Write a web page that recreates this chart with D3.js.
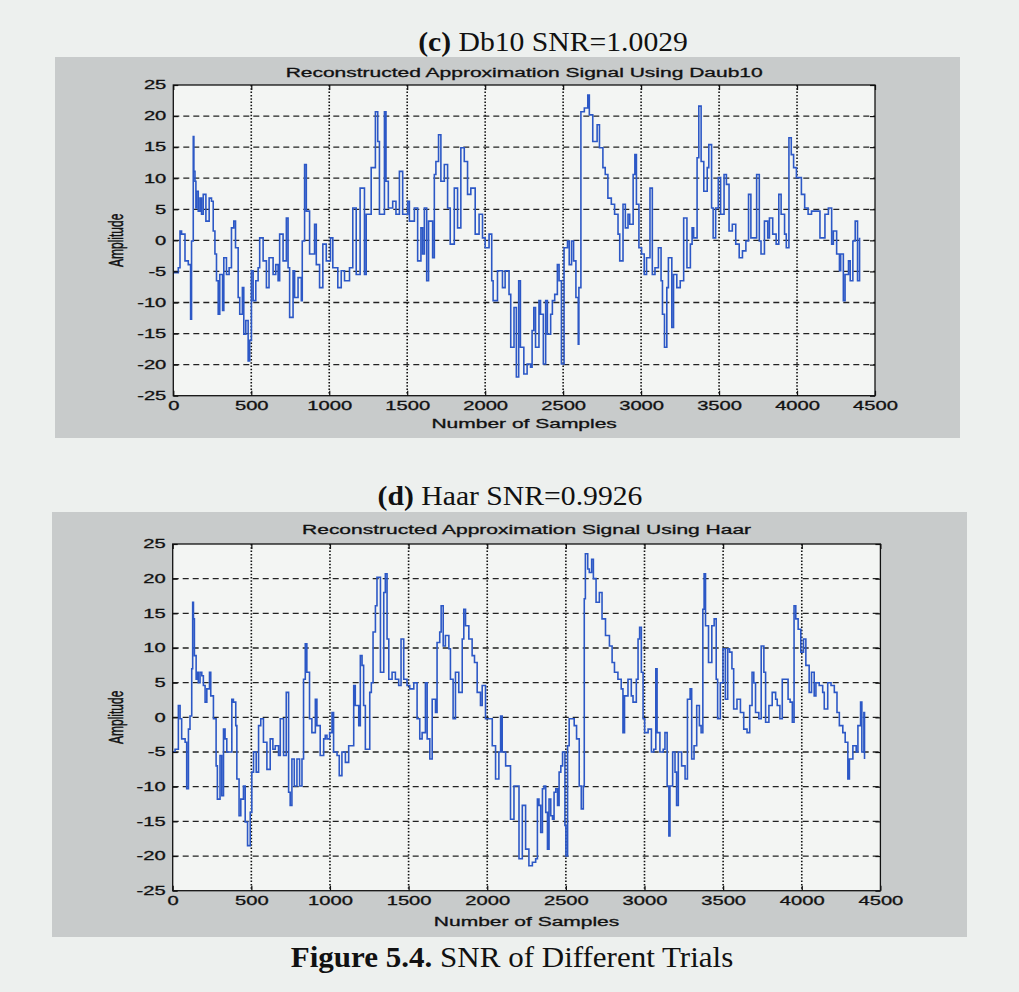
<!DOCTYPE html>
<html>
<head>
<meta charset="utf-8">
<script src="https://cdn.jsdelivr.net/npm/d3@7"></script>
<style>
  html, body { margin: 0; padding: 0; background: #edf0ee; }
  svg { display: block; }
</style>
</head>
<body>
<svg id="fig" width="1019" height="992"></svg>
<script>
// Axis ticks shared by both panels
const xTicks = [0, 500, 1000, 1500, 2000, 2500, 3000, 3500, 4000, 4500];
const yTicks = [-25, -20, -15, -10, -5, 0, 5, 10, 15, 20, 25];

// Reconstructed approximation (Daubechies-10): [sample, amplitude]
const db10Signal = [
  [0,-5.2],[32,-4.4],[43,1.5],[53,1.0],[75,-3.3],[96,-3.9],[111,-12.7],[117,-0.1],[128,16.7],[132,11.1],
  [139,9.5],[145,5.2],[149,7.9],[160,4.7],[171,6.8],[181,4.2],[192,7.4],[209,3.1],[230,6.8],[245,6.3],
  [256,1.5],[267,-2.2],[277,-6.5],[288,-11.9],[298,-5.5],[316,-11.3],[324,-2.8],[341,-5.5],[358,-4.4],[373,2.0],
  [388,3.1],[399,-1.2],[416,-9.2],[426,-11.9],[443,-7.6],[452,-15.1],[465,-12.9],[480,-19.4],[490,-16.1],[501,-4.9],
  [512,-9.7],[529,-6.5],[544,-4.4],[554,0.4],[576,-3.3],[597,-7.6],[614,-2.8],[640,-5.5],[657,-3.9],[672,-6.5],
  [682,1.0],[704,-3.3],[725,3.6],[736,-4.4],[746,-12.4],[768,-4.9],[778,-9.2],[800,-6.0],[821,-9.7],[827,-0.1],
  [842,12.2],[853,4.7],[874,-2.2],[906,2.6],[917,-3.9],[938,-7.6],[959,-0.6],[981,-3.3],[1008,0.4],[1023,-4.4],
  [1055,-7.6],[1077,-4.9],[1098,-6.5],[1130,-4.4],[1151,5.2],[1173,-5.5],[1198,8.4],[1226,-5.5],[1237,4.2],[1269,11.7],
  [1296,20.7],[1311,15.9],[1322,4.2],[1354,20.7],[1364,9.5],[1379,5.2],[1407,6.3],[1428,4.2],[1450,11.1],[1471,4.2],
  [1503,6.3],[1514,3.1],[1546,5.2],[1567,-3.3],[1588,2.0],[1599,-2.2],[1610,5.2],[1625,-6.5],[1637,3.1],[1663,-2.8],
  [1674,10.6],[1684,12.7],[1701,17.0],[1716,9.5],[1738,12.2],[1759,5.2],[1776,-0.6],[1802,8.4],[1823,2.0],[1844,14.9],
  [1866,12.7],[1887,7.4],[1908,8.4],[1936,1.0],[1961,4.2],[1983,0.4],[2000,-1.2],[2025,1.0],[2042,-6.5],[2051,-9.7],
  [2079,-4.9],[2111,-7.6],[2128,-4.9],[2153,-8.7],[2164,-17.2],[2185,-10.8],[2200,-22.0],[2215,-6.5],[2226,-17.2],[2248,-21.5],
  [2269,-19.9],[2291,-20.4],[2301,-14.5],[2312,-10.8],[2323,-17.2],[2345,-9.7],[2355,-11.9],[2373,-19.9],[2388,-9.7],[2399,-15.1],
  [2420,-11.9],[2431,-9.7],[2446,-8.7],[2463,-3.9],[2474,-6.5],[2489,-19.9],[2506,-1.2],[2528,-0.1],[2539,-3.9],[2554,-0.1],
  [2567,-3.3],[2582,-9.2],[2597,-16.7],[2601,-7.6],[2614,20.7],[2636,21.3],[2658,23.4],[2668,20.2],[2690,15.9],[2718,18.6],
  [2733,14.9],[2755,11.7],[2770,10.6],[2787,6.8],[2809,5.8],[2830,4.2],[2852,1.0],[2863,-3.3],[2884,5.8],[2899,2.0],
  [2916,4.2],[2927,2.6],[2949,10.6],[2960,13.8],[2970,5.8],[2986,-1.2],[3003,-2.2],[3020,-5.5],[3035,-2.8],[3057,8.4],
  [3072,-5.5],[3089,-4.4],[3111,-1.2],[3128,-6.5],[3137,-11.9],[3150,-17.2],[3165,-7.6],[3175,-2.8],[3197,-14.0],[3208,-5.5],
  [3229,-7.6],[3251,-6.5],[3273,3.6],[3294,-4.4],[3316,-0.6],[3327,2.0],[3337,0.4],[3359,13.3],[3370,21.6],[3385,12.7],
  [3402,7.9],[3424,11.7],[3434,15.4],[3452,5.2],[3462,0.4],[3478,5.2],[3495,10.1],[3510,4.2],[3532,10.6],[3547,9.0],
  [3564,1.5],[3585,2.6],[3607,-0.6],[3629,-2.8],[3650,-1.7],[3672,-0.1],[3689,7.4],[3704,0.4],[3741,10.6],[3758,-0.1],
  [3769,-2.2],[3791,3.1],[3812,0.4],[3823,3.6],[3844,1.0],[3866,-0.6],[3883,7.4],[3898,4.2],[3920,1.0],[3931,-1.2],
  [3948,16.5],[3963,13.8],[3978,11.7],[3996,10.1],[4028,7.4],[4049,5.2],[4071,4.2],[4093,4.7],[4125,4.7],[4147,0.4],
  [4179,4.2],[4201,5.2],[4222,-0.6],[4233,1.5],[4254,-2.2],[4272,-4.9],[4280,-2.2],[4297,-9.7],[4308,-5.5],[4330,-3.3],
  [4341,-6.5],[4358,-0.1],[4373,3.1],[4388,-6.5],[4401,0.4]
];

// Reconstructed approximation (Haar): [sample, amplitude]
const haarSignal = [
  [0,-5.0],[15,-4.6],[36,1.7],[47,-0.2],[57,-3.1],[79,-3.6],[89,-10.3],[100,-1.7],[110,0.2],[121,7.0],
  [127,16.6],[132,14.2],[138,8.9],[149,5.5],[157,6.5],[163,5.0],[174,6.5],[185,6.0],[195,4.6],[206,2.2],
  [217,4.1],[234,6.5],[242,3.1],[259,-0.2],[276,-7.0],[284,-11.8],[301,-5.5],[312,-11.3],[323,-1.7],[333,-3.1],
  [344,-5.0],[376,2.6],[386,2.2],[401,-1.2],[408,-8.9],[422,-14.2],[433,-11.8],[450,-9.9],[461,-15.1],[476,-18.5],
  [493,-13.7],[503,-7.9],[514,-5.0],[531,-7.9],[546,-1.2],[560,-0.2],[577,-3.6],[599,-7.5],[620,-3.1],[637,-4.6],
  [652,-4.1],[673,-5.5],[684,-0.2],[705,-5.5],[722,3.6],[737,-10.8],[747,-12.7],[758,-6.0],[773,-9.9],[790,-6.0],
  [807,-9.9],[822,-6.0],[832,5.5],[843,10.6],[853,6.5],[870,-0.2],[885,-2.2],[907,2.6],[917,-1.2],[938,-5.5],
  [960,-3.1],[970,-2.6],[981,-3.1],[998,-2.2],[1013,0.7],[1023,-5.0],[1045,-5.5],[1059,-8.4],[1076,-5.0],[1098,-6.5],
  [1119,-4.1],[1151,4.6],[1161,1.7],[1183,-1.2],[1193,8.9],[1204,7.5],[1214,1.7],[1225,-4.6],[1253,3.6],[1263,5.0],
  [1274,12.3],[1289,16.1],[1299,20.2],[1321,6.5],[1342,18.0],[1352,20.7],[1363,11.3],[1374,5.5],[1395,6.5],[1416,5.5],
  [1437,4.6],[1452,11.3],[1469,5.5],[1490,4.6],[1507,4.1],[1533,5.0],[1554,-0.2],[1571,-3.1],[1586,-2.2],[1607,5.0],
  [1618,-3.1],[1635,-6.0],[1650,2.6],[1671,0.7],[1681,10.8],[1698,12.3],[1707,16.1],[1720,10.3],[1734,11.8],[1756,9.9],
  [1766,5.5],[1783,-0.2],[1798,6.5],[1819,3.6],[1841,11.3],[1851,15.6],[1862,13.2],[1883,11.3],[1904,8.9],[1919,7.9],
  [1936,3.6],[1957,1.7],[1968,4.6],[1989,-0.2],[2032,-4.1],[2053,-8.9],[2074,-5.0],[2085,0.2],[2095,-5.0],[2117,-7.0],
  [2148,-14.7],[2170,-9.9],[2202,-20.4],[2223,-12.7],[2244,-19.0],[2265,-21.4],[2287,-20.9],[2308,-20.4],[2319,-11.8],[2329,-12.7],
  [2340,-16.6],[2351,-10.3],[2361,-9.9],[2372,-13.7],[2383,-19.0],[2393,-11.8],[2404,-14.2],[2415,-14.7],[2425,-10.8],[2436,-10.3],
  [2447,-12.7],[2457,-7.9],[2468,-7.0],[2479,-5.0],[2494,-15.6],[2500,-20.0],[2511,-4.1],[2521,-0.2],[2553,-1.2],[2568,-3.1],
  [2585,-9.9],[2598,-13.2],[2611,-9.9],[2617,17.1],[2624,23.6],[2639,21.4],[2649,20.9],[2664,22.8],[2675,20.0],[2692,16.6],
  [2713,18.0],[2730,14.2],[2752,11.8],[2777,10.3],[2794,7.9],[2809,6.5],[2831,5.5],[2852,4.1],[2863,-2.2],[2873,3.1],
  [2895,5.5],[2916,3.1],[2927,2.2],[2948,5.5],[2959,11.3],[2969,13.0],[2980,6.5],[2991,-0.2],[3001,-2.2],[3023,-1.7],
  [3044,-5.0],[3059,-4.6],[3072,7.0],[3080,-2.2],[3098,-5.0],[3119,-4.6],[3130,-2.2],[3144,-9.9],[3155,-17.1],[3162,-9.9],
  [3179,-5.0],[3194,-7.9],[3204,-12.7],[3215,-5.0],[3236,-7.0],[3258,-8.9],[3273,2.6],[3290,4.1],[3300,-6.0],[3315,-4.1],
  [3332,1.7],[3349,-1.2],[3360,-2.2],[3371,15.6],[3379,20.7],[3388,13.2],[3407,7.9],[3428,13.2],[3443,14.2],[3456,5.5],
  [3465,-0.2],[3482,5.0],[3499,9.9],[3514,2.6],[3529,9.9],[3541,9.4],[3556,7.0],[3567,1.2],[3588,2.6],[3610,0.7],
  [3631,-1.7],[3652,-2.2],[3669,1.7],[3684,6.5],[3695,5.0],[3706,0.7],[3727,-0.2],[3742,10.3],[3759,6.5],[3770,-0.7],
  [3791,1.7],[3812,3.6],[3834,2.6],[3844,1.7],[3861,-0.2],[3876,5.5],[3913,2.6],[3926,2.2],[3940,-0.7],[3951,16.1],
  [3962,14.2],[3977,12.7],[3994,9.4],[4011,11.3],[4026,7.5],[4047,3.6],[4062,6.5],[4079,3.1],[4090,5.0],[4111,4.6],
  [4133,3.6],[4143,1.2],[4165,5.0],[4186,4.6],[4207,3.6],[4224,0.7],[4239,-1.2],[4261,-2.2],[4276,-3.6],[4293,-8.9],
  [4303,-6.0],[4325,-4.1],[4346,-5.0],[4357,-1.2],[4374,2.2],[4382,-5.0],[4395,0.7],[4399,-6.0]
];

// Panel layout: figure frame, axes box and text positions
const panels = [
  {
    tag: "(c)", heading: " Db10 SNR=1.0029", headX: 553, headY: 50.5,
    title: "Reconstructed Approximation Signal Using Daub10",
    frame: { x0: 55, y0: 57, x1: 960, y1: 438 },
    box: { x0: 173.3, y0: 85, x1: 875, y1: 395.7 },
    titleY: 77, xLabelY: 428, yLabelX: 116,
    data: db10Signal, clipId: "clipC"
  },
  {
    tag: "(d)", heading: " Haar SNR=0.9926", headX: 510, headY: 505,
    title: "Reconstructed Approximation Signal Using Haar",
    frame: { x0: 52, y0: 512, x1: 967, y1: 937 },
    box: { x0: 172.7, y0: 544, x1: 880.4, y1: 890.7 },
    titleY: 534, xLabelY: 926, yLabelX: 116,
    data: haarSignal, clipId: "clipD"
  }
];

const svg = d3.select("#fig");
const SX = 1.68;           // horizontal stretch of the plot lettering
const SANS = "'Liberation Sans', Arial, Helvetica, sans-serif";
const SERIF = "'Liberation Serif', 'Times New Roman', Times, serif";
const LINE_COLOR = "#2c58c6";
const INK = "#111";

function headingText(x, y, boldPart, restPart, size, sx) {
  const t = svg.append("text")
    .attr("transform", `translate(${x},${y}) scale(${sx},1)`)
    .attr("text-anchor", "middle")
    .style("font-family", SERIF)
    .style("font-size", size + "px")
    .attr("fill", INK);
  t.append("tspan").attr("font-weight", "bold").text(boldPart);
  t.append("tspan").text(restPart);
}

// sans lettering with a thin outline so it reads as heavy as plotted type
function sansText(sel, size) {
  return sel.style("font-family", SANS).style("font-size", size + "px")
    .attr("fill", INK).attr("stroke", INK).attr("stroke-width", 0.3);
}

panels.forEach(p => {
  const f = p.frame, b = p.box;

  // grey figure background
  svg.append("rect")
    .attr("x", f.x0).attr("y", f.y0)
    .attr("width", f.x1 - f.x0).attr("height", f.y1 - f.y0)
    .attr("fill", "#c8cbcb");

  headingText(p.headX, p.headY, p.tag, p.heading, 28, 1.06);

  const x = d3.scaleLinear().domain([0, 4500]).range([b.x0, b.x1]);
  const y = d3.scaleLinear().domain([-25, 25]).range([b.y1, b.y0]);

  // axes background
  svg.append("rect")
    .attr("x", b.x0).attr("y", b.y0)
    .attr("width", b.x1 - b.x0).attr("height", b.y1 - b.y0)
    .attr("fill", "#f3f5f3");

  // grid: dotted verticals, dashed horizontals
  const grid = svg.append("g");
  grid.selectAll("line.vg")
    .data(xTicks.filter(v => v > 0 && v < 4500))
    .join("line").attr("class", "vg")
    .attr("x1", d => x(d)).attr("x2", d => x(d))
    .attr("y1", b.y0).attr("y2", b.y1)
    .attr("stroke", INK).attr("stroke-width", 1.6)
    .attr("stroke-dasharray", "1.5,1.8");
  grid.selectAll("line.hg")
    .data(yTicks.filter(v => v > -25 && v < 25))
    .join("line").attr("class", "hg")
    .attr("x1", b.x0).attr("x2", b.x1)
    .attr("y1", d => y(d)).attr("y2", d => y(d))
    .attr("stroke", "#222").attr("stroke-width", 1.3)
    .attr("stroke-dasharray", "6,4");

  // signal trace
  svg.append("clipPath").attr("id", p.clipId)
    .append("rect")
    .attr("x", b.x0).attr("y", b.y0)
    .attr("width", b.x1 - b.x0).attr("height", b.y1 - b.y0);

  const line = d3.line()
    .x(d => x(d[0]))
    .y(d => y(d[1]))
    .curve(d3.curveStepAfter);

  svg.append("path")
    .datum(p.data)
    .attr("clip-path", `url(#${p.clipId})`)
    .attr("d", line)
    .attr("fill", "none")
    .attr("stroke", LINE_COLOR)
    .attr("stroke-width", 1.6)
    .attr("stroke-linejoin", "miter");

  // axes with inward ticks; labels use a plain hyphen for negatives
  const fmt = d => String(d);
  const axisStyle = g => {
    g.select(".domain").remove();
    g.selectAll(".tick line").attr("stroke", INK).attr("stroke-width", 1.2);
    sansText(g.selectAll(".tick text"), 12);
  };

  const gx = svg.append("g").attr("transform", `translate(0,${b.y1})`)
    .call(d3.axisBottom(x).tickValues(xTicks).tickSize(-5).tickPadding(6).tickFormat(fmt))
    .call(axisStyle);
  gx.selectAll(".tick text").attr("transform", `scale(${SX},1)`);

  const gy = svg.append("g").attr("transform", `translate(${b.x0},0)`)
    .call(d3.axisLeft(y).tickValues(yTicks).tickSize(-5).tickPadding(7).tickFormat(fmt))
    .call(axisStyle);
  gy.selectAll(".tick text").attr("x", -7 / SX).attr("transform", `scale(${SX},1)`);

  svg.append("g").attr("transform", `translate(0,${b.y0})`)
    .call(d3.axisTop(x).tickValues(xTicks).tickSize(-5).tickFormat(""))
    .call(axisStyle);
  svg.append("g").attr("transform", `translate(${b.x1},0)`)
    .call(d3.axisRight(y).tickValues(yTicks).tickSize(-5).tickFormat(""))
    .call(axisStyle);

  // axes box
  svg.append("rect")
    .attr("x", b.x0).attr("y", b.y0)
    .attr("width", b.x1 - b.x0).attr("height", b.y1 - b.y0)
    .attr("fill", "none").attr("stroke", INK).attr("stroke-width", 1.3);

  // title and axis labels
  const cx = (b.x0 + b.x1) / 2;
  sansText(svg.append("text"), 12.5)
    .attr("transform", `translate(${cx},${p.titleY}) scale(${SX},1)`)
    .attr("text-anchor", "middle")
    .text(p.title);

  sansText(svg.append("text"), 12.5)
    .attr("transform", `translate(${cx},${p.xLabelY}) scale(${SX},1)`)
    .attr("text-anchor", "middle")
    .text("Number of Samples");

  sansText(svg.append("text"), 12)
    .attr("transform", `translate(${p.yLabelX},${(b.y0 + b.y1) / 2}) scale(${SX},1) rotate(-90)`)
    .attr("text-anchor", "middle")
    .attr("dy", "0.35em")
    .text("Amplitude");
});

headingText(512, 966.5, "Figure 5.4.", " SNR of Different Trials", 29, 1.07);
</script>
</body>
</html>
